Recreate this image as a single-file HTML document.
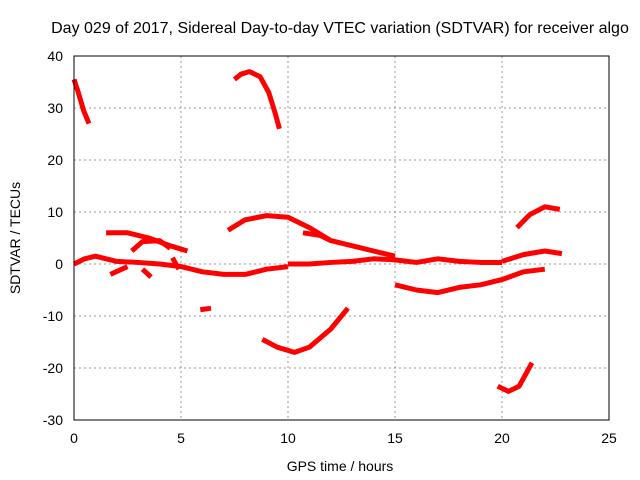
<!DOCTYPE html>
<html><head><meta charset="utf-8"><style>
body{margin:0;background:#fff;}
svg{display:block;font-family:"Liberation Sans",sans-serif;}
</style></head><body>
<svg id="chart" width="640" height="480">
<text x="340" y="33" text-anchor="middle" font-size="16">Day 029 of 2017, Sidereal Day-to-day VTEC variation (SDTVAR) for receiver algo</text>
<text x="340" y="471" text-anchor="middle" font-size="14">GPS time / hours</text>
<text transform="translate(20,238) rotate(-90)" text-anchor="middle" font-size="14">SDTVAR / TECUs</text>
<g id="grid"></g><g id="series"></g>
<rect x="74" y="56" width="535" height="364" fill="none" stroke="#000" stroke-width="1"/>
</svg>
<script>
const xTicks=[0,5,10,15,20,25];
const yTicks=[-30,-20,-10,0,10,20,30,40];
const seg1=[[0,35.5],[0.2,33],[0.45,29.5],[0.7,27]];
const seg2=[[7.5,35.5],[7.8,36.5],[8.2,37],[8.7,36],[9.1,33],[9.4,29],[9.6,26]];
const seg3=[[0,0],[0.5,1],[1,1.5],[2,0.5],[3,0.3],[4,0],[5,-0.5],[6,-1.5],[7,-2],[8,-2],[9,-1],[10,-0.5]];
const seg4=[[1.5,6],[2.5,6],[3.5,5],[4.5,3.5],[5.3,2.5]];
const seg5=[[2.7,2.5],[3.2,4.3],[4,4.5],[4.5,3]];
const seg6=[[7.2,6.5],[8,8.5],[9,9.3],[10,9],[11,7],[12,4.5],[13,3.5],[14,2.5],[15,1.5]];
const seg7=[[10.7,6],[11.5,5.5],[12,4.5]];
const seg8=[[5.9,-8.8],[6.4,-8.5]];
const seg9=[[8.8,-14.5],[9.5,-16],[10.3,-17],[11,-16],[12,-12.5],[12.8,-8.5]];
const seg10=[[15,-4],[16,-5],[17,-5.5],[18,-4.5],[19,-4],[20,-3],[21,-1.5],[22,-1]];
const seg11=[[10,0],[11,0],[12,0.3],[13,0.5],[14,1],[15,0.8],[16,0.3],[17,1],[18,0.5],[19,0.3],[20,0.3]];
const seg12=[[20,0.5],[21,1.8],[22,2.5],[22.8,2]];
const seg13=[[20.7,7],[21.3,9.5],[22,11],[22.7,10.5]];
const seg14=[[19.8,-23.5],[20.3,-24.5],[20.8,-23.5],[21.4,-19]];
const seg15=[[1.7,-2],[2.5,-0.5]];
const seg16=[[3.2,-1],[3.6,-2.5]];
const seg17=[[4.6,1.2],[4.9,-1]];
const allSegs=[seg1,seg2,seg3,seg4,seg5,seg6,seg7,seg8,seg9,seg10,seg11,seg12,seg13,seg14,seg15,seg16,seg17];
const L=74,R=609,T=56,B=420;
const sx=v=>L+(v-0)/(25-0)*(R-L);
const sy=v=>B-(v+30)/70*(B-T);
const NS="http://www.w3.org/2000/svg";
const g=document.getElementById('grid');
xTicks.forEach(t=>{
 const x=sx(t);
 if(t>0&&t<25){const l=document.createElementNS(NS,'line');
 l.setAttribute('x1',x);l.setAttribute('x2',x);l.setAttribute('y1',T);l.setAttribute('y2',B);
 l.setAttribute('stroke','#999');l.setAttribute('stroke-dasharray','2,3');
 
 g.appendChild(l);}
 const tx=document.createElementNS(NS,'text');
 tx.setAttribute('x',x);tx.setAttribute('y',B+23);tx.setAttribute('text-anchor','middle');tx.setAttribute('font-size','14');
 tx.textContent=t;
 
 g.appendChild(tx);
});
yTicks.forEach(t=>{
 const y=sy(t);
 if(t>-30&&t<40){const l=document.createElementNS(NS,'line');
 l.setAttribute('x1',L);l.setAttribute('x2',R);l.setAttribute('y1',y);l.setAttribute('y2',y);
 l.setAttribute('stroke','#999');l.setAttribute('stroke-dasharray','2,3');
 
 g.appendChild(l);}
 const tx=document.createElementNS(NS,'text');
 tx.setAttribute('x',L-11);tx.setAttribute('y',y+5);tx.setAttribute('text-anchor','end');tx.setAttribute('font-size','14');
 tx.textContent=t;
 
 g.appendChild(tx);
});
const s=document.getElementById('series');
allSegs.forEach(seg=>{
 const p=document.createElementNS(NS,'polyline');
 p.setAttribute('points',seg.map(d=>sx(d[0])+','+sy(d[1])).join(' '));
 p.setAttribute('fill','none');p.setAttribute('stroke','#f00');p.setAttribute('stroke-width','5');
 p.setAttribute('stroke-linejoin','round');
 
 
 s.appendChild(p);
});
</script>
</body></html>
